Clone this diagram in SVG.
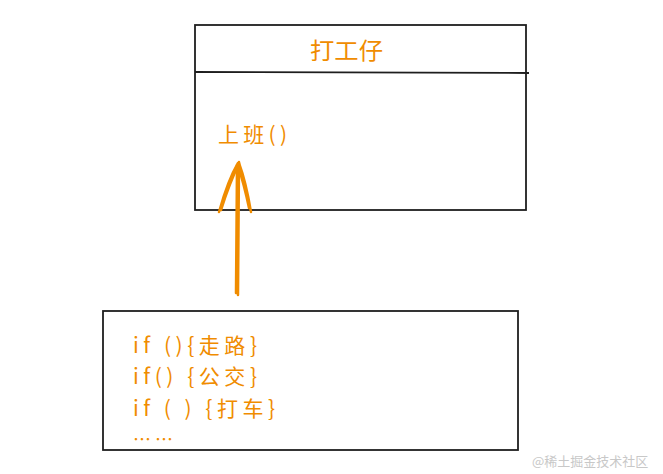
<svg xmlns="http://www.w3.org/2000/svg" width="663" height="474" viewBox="0 0 663 474">
<style>
.box{fill:none;stroke:#1e1e1e;stroke-width:1.8}
.t{fill:#f08c00;font-family:"Comic Sans MS","Noto Sans CJK SC",sans-serif}
.c{fill:none;stroke:#f08c00;stroke-width:2.5;stroke-linecap:round;stroke-linejoin:round}
.wm{fill:#c8c8c8;font-family:"Noto Sans CJK SC",sans-serif;font-size:13px}
</style>
<rect width="663" height="474" fill="#ffffff"/>
<g id="worker">
<rect class="box" x="195" y="25" width="331" height="185"/>
<line class="box" x1="195" y1="72" x2="529" y2="73"/>
<text class="t" x="310" y="59" font-size="23" textLength="73" lengthAdjust="spacingAndGlyphs">打工仔</text>
<text class="t" x="218" y="142" font-size="21" textLength="69" lengthAdjust="spacing">上班()</text>
</g>
<g id="logic">
<rect class="box" x="103" y="311" width="415" height="139"/>
<text class="t" x="133" y="353" font-size="21" textLength="124" lengthAdjust="spacing">if (){走路}</text>
<text class="t" x="133" y="384" font-size="21" textLength="124" lengthAdjust="spacing">if() {公交}</text>
<text class="t" x="133" y="416" font-size="21" textLength="142" lengthAdjust="spacing">if ( ) {打车}</text>
<text class="t" x="133" y="446" font-size="18" textLength="40" lengthAdjust="spacing">……</text>
</g>
<g id="connectors">
<path class="c" d="M238 295 L239 162 M236 293 L237 165"/>
<path class="c" d="M219 212 Q228 180 238 163 M221 210 Q230 182 238 166"/>
<path class="c" d="M251 212 Q246 182 239 163 M249 208 Q244 184 238 166"/>
</g>
<text class="wm" x="532" y="466">@稀土掘金技术社区</text>
</svg>
